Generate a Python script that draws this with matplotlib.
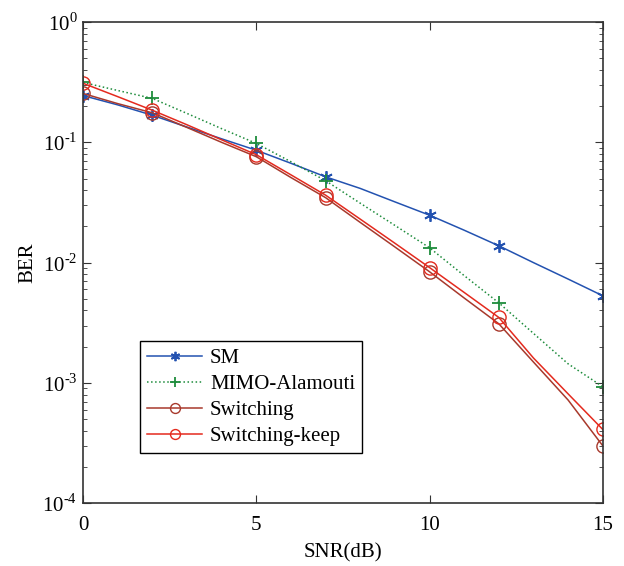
import matplotlib
matplotlib.use("Agg")
import matplotlib.pyplot as plt
from matplotlib.ticker import FuncFormatter
import numpy as np

plt.rcParams['font.family'] = 'serif'
plt.rcParams['font.serif'] = ['Liberation Serif', 'DejaVu Serif']
plt.rcParams['mathtext.fontset'] = 'custom'
plt.rcParams['mathtext.rm'] = 'Liberation Serif'

fontsize = 15

# SNR grid and BER curves
snr = [0, 1, 2, 3, 4, 5, 6, 7, 8, 9, 10, 11, 12, 13, 14, 15]
ber_sm = [0.245, 0.205, 0.168, 0.134, 0.107, 0.086, 0.067, 0.0517,
          0.0414, 0.032, 0.0248, 0.0186, 0.0138, 0.010, 0.0073, 0.0053]
ber_alamouti = [0.315, 0.27, 0.232, 0.174, 0.130, 0.098, 0.069, 0.048,
                0.0312, 0.0204, 0.0133, 0.0078, 0.00463, 0.00258, 0.00144, 0.00093]
ber_switching = [0.255, 0.21, 0.176, 0.133, 0.100, 0.076, 0.051, 0.0347,
                 0.0216, 0.0135, 0.0084, 0.00508, 0.0031, 0.00149, 0.00072, 0.0003]
ber_keep = [0.31, 0.24, 0.185, 0.140, 0.105, 0.079, 0.0537, 0.0364,
            0.023, 0.0145, 0.0091, 0.00565, 0.0035, 0.00161, 0.00081, 0.00041]
marker_snr = [0, 2, 5, 7, 10, 12, 15]

curves = [
    ("SM", ber_sm, dict(color='#2352b0', marker=(6, 2, 0), linestyle='-', markersize=9, markeredgewidth=1.3)),
    ("MIMO-Alamouti", ber_alamouti, dict(color='#1e8c3c', marker='+', linestyle=':', markersize=10, markeredgewidth=1.3)),
    ("Switching", ber_switching, dict(color='#a8392c', marker='o', linestyle='-', markersize=9.5, markerfacecolor='none')),
    ("Switching-keep", ber_keep, dict(color='#e42a1e', marker='o', linestyle='-', markersize=9.5, markerfacecolor='none')),
]


def decade_label(v, pos):
    n = int(round(np.log10(v)))
    if n < 0:
        return r'$10^{\text{-}%d}$' % (-n)
    return r'$10^{%d}$' % n


fig = plt.figure(figsize=(6.24, 5.66), dpi=100)
ax = fig.add_axes([0.133, 0.111, 0.833, 0.850])

mark_idx = [snr.index(s) for s in marker_snr]
for name, ber, style in curves:
    ax.semilogy(snr, ber, label=name, linewidth=1.1, markevery=mark_idx, **style)

ax.set_xlim(0, 15)
ax.set_ylim(1e-4, 1)
ax.set_xticks([0, 5, 10, 15])
ax.set_yticks([1e-4, 1e-3, 1e-2, 1e-1, 1])
ax.yaxis.set_major_formatter(FuncFormatter(decade_label))
ax.tick_params(which='both', direction='in', top=True, right=True, labelsize=fontsize, color='#333333')
ax.tick_params(which='major', length=6)
ax.tick_params(which='minor', length=3)
ax.tick_params(axis='x', pad=9)
ax.tick_params(axis='y', pad=4)
for sp in ax.spines.values():
    sp.set_color('#333333')
    sp.set_linewidth(1.2)

ax.set_xlabel('SNR(dB)', fontsize=fontsize, labelpad=6)
ax.set_ylabel('BER', fontsize=fontsize, labelpad=4)

leg = ax.legend(loc='lower left', bbox_to_anchor=(0.11, 0.104), borderaxespad=0,
                fontsize=fontsize, fancybox=False, framealpha=1,
                edgecolor='black', handlelength=2.6, labelspacing=0.3,
                borderpad=0.35, handletextpad=0.4, markerscale=0.75)
leg.get_frame().set_linewidth(1.0)

fig.savefig('out.png', dpi=100)
